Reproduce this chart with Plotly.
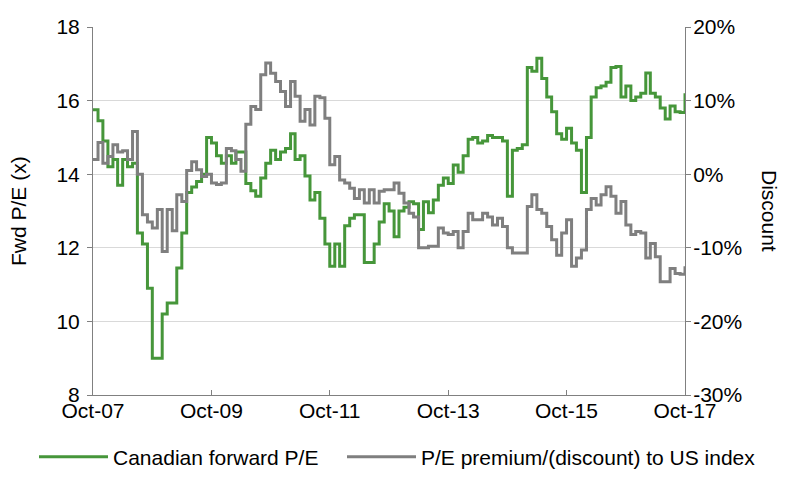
import pandas as pd
import plotly.graph_objects as go

dates = pd.date_range("2007-10-01", periods=121, freq="MS")

canadian_pe = [
    15.75, 15.45, 14.9, 14.2, 14.4, 13.7, 14.4, 14.2, 14.3, 12.4,
    12.1, 10.9, 9.0, 9.0, 10.2, 10.5, 10.5, 11.45, 12.4, 13.5,
    13.65, 13.8, 14.0, 15.0, 14.85, 14.5, 14.3, 14.5, 14.3, 14.6,
    14.6, 13.75, 13.55, 13.4, 13.9, 14.3, 14.65, 14.4, 14.6, 14.7,
    15.1, 14.4, 14.5, 13.95, 13.3, 13.5, 12.8, 12.1, 11.5, 12.1,
    11.5, 12.6, 12.8, 12.9, 12.9, 11.6, 11.6, 12.1, 12.7, 13.2,
    13.0, 12.3, 13.0, 13.1, 13.25, 13.2, 12.5, 13.25, 12.95, 13.3,
    13.7, 13.9, 13.75, 14.25, 14.05, 14.5, 14.95, 15.0, 14.85, 14.9,
    15.05, 15.0, 15.0, 14.9, 13.4, 14.65, 14.7, 14.8, 16.9, 16.8,
    17.15, 16.6, 16.1, 15.7, 15.1, 14.95, 15.25, 14.85, 14.65, 13.5,
    15.0, 16.1, 16.35, 16.4, 16.5, 16.9, 16.93, 16.1, 16.4, 16.0,
    16.1, 16.2, 16.75, 16.2, 16.1, 15.8, 15.5, 15.85, 15.7, 15.68,
    16.2,
]

premium_pct = [
    2.0, 4.3, 1.5, 2.4, 4.0, 3.0, 3.2, 2.0, 5.8, 0.0,
    -5.5, -6.5, -7.3, -4.8, -10.5, -4.8, -7.7, -2.8, -3.7, 0.5,
    1.7, 0.6, -0.3, 0.0, -1.2, -1.4, -1.2, 3.5, 3.2, 2.0,
    0.4, 6.8, 9.2, 8.8, 13.5, 15.1, 13.7, 12.6, 11.25, 9.2,
    12.6, 10.6, 7.2, 8.8, 6.7, 10.6, 10.4, 7.6, 1.3, 2.4,
    -0.8, -1.2, -1.9, -3.3, -2.1, -3.9, -2.1, -3.9, -2.3, -2.1,
    -2.1, -1.2, -2.6, -3.9, -5.3, -5.8, -10.0, -10.0, -9.8, -9.8,
    -7.3, -8.0, -8.2, -7.8, -10.0, -7.8, -5.3, -6.2, -6.2, -5.3,
    -5.8, -6.9, -6.0, -7.1, -10.0, -10.7, -10.7, -10.7, -4.4, -2.8,
    -4.8, -5.3, -7.1, -8.9, -11.0, -8.0, -6.2, -12.5, -11.4, -10.3,
    -4.8, -3.3, -4.2, -2.8, -1.7, -3.0, -5.3, -3.7, -6.9, -8.2,
    -7.8, -8.0, -11.4, -9.4, -11.2, -14.6, -14.6, -12.8, -13.5, -13.6,
    -12.5,
]

x_tick_vals = pd.to_datetime(["2007-10-01", "2009-10-01", "2011-10-01",
                              "2013-10-01", "2015-10-01", "2017-10-01"])
x_tick_text = ["Oct-07", "Oct-09", "Oct-11", "Oct-13", "Oct-15", "Oct-17"]
left_ticks = [8, 10, 12, 14, 16, 18]
right_ticks = [-30, -20, -10, 0, 10, 20]

GREEN = "#46963A"
GRAY = "#7F7F7F"
FONT = "Liberation Sans Narrow, Arial Narrow, Liberation Sans, Arial, sans-serif"
FS = 21
LFS = 21
W, H = 792, 474  # page body adds an 8px margin

fig = go.Figure()
fig.add_trace(go.Scatter(x=dates, y=canadian_pe, name="Canadian forward P/E",
                         mode="lines", legend="legend",
                         line=dict(color=GREEN, width=3, shape="hv")))
fig.add_trace(go.Scatter(x=dates, y=premium_pct, name="P/E premium/(discount) to US index",
                         mode="lines", yaxis="y2", legend="legend2",
                         line=dict(color=GRAY, width=3, shape="hv")))

legend_common = dict(orientation="h", xref="container", yref="container",
                     xanchor="left", y=25 / H, yanchor="middle",
                     font=dict(size=LFS), itemwidth=69,
                     bgcolor="rgba(0,0,0,0)")

fig.update_layout(
    width=W, height=H,
    margin=dict(l=85, r=115, t=19, b=87, autoexpand=False),
    paper_bgcolor="white", plot_bgcolor="white",
    font=dict(family=FONT, size=FS, color="black"),
    xaxis=dict(
        range=[dates[0], dates[-1]],
        tickvals=x_tick_vals, ticktext=x_tick_text,
        showgrid=False, showline=True, linecolor="#808080", linewidth=1,
        ticks="inside", ticklen=5, tickcolor="#808080",
        tickfont=dict(size=FS), zeroline=False, automargin=False,
        ticklabelstandoff=-3,
    ),
    yaxis=dict(
        range=[8, 18], tickvals=left_ticks,
        showgrid=True, gridcolor="#D9D9D9", gridwidth=1,
        showline=True, linecolor="#808080", linewidth=1,
        ticks="outside", ticklen=5, tickcolor="#808080",
        tickfont=dict(size=FS), zeroline=False, automargin=False,
        ticklabelstandoff=3,
    ),
    yaxis2=dict(
        range=[-30, 20], tickvals=right_ticks,
        ticktext=[f"{v}%" for v in right_ticks],
        overlaying="y", side="right",
        showgrid=False, showline=True, linecolor="#808080", linewidth=1,
        ticks="outside", ticklen=5, tickcolor="#808080",
        tickfont=dict(size=FS), zeroline=False, automargin=False,
        ticklabelstandoff=-2,
    ),
    legend=dict(x=26 / W, **legend_common),
    legend2=dict(x=334 / W, **legend_common),
    showlegend=True,
)

fig.add_annotation(text="Fwd P/E (x)", xref="paper", yref="paper",
                   x=0.0, y=0.5, xshift=-75, xanchor="center", yanchor="middle",
                   showarrow=False, textangle=-90,
                   font=dict(size=FS, family=FONT))
fig.add_annotation(text="Discount", xref="paper", yref="paper",
                   x=1.0, y=0.5, xshift=85, xanchor="center", yanchor="middle",
                   showarrow=False, textangle=90,
                   font=dict(size=FS, family=FONT))

fig.write_html("out.html")
